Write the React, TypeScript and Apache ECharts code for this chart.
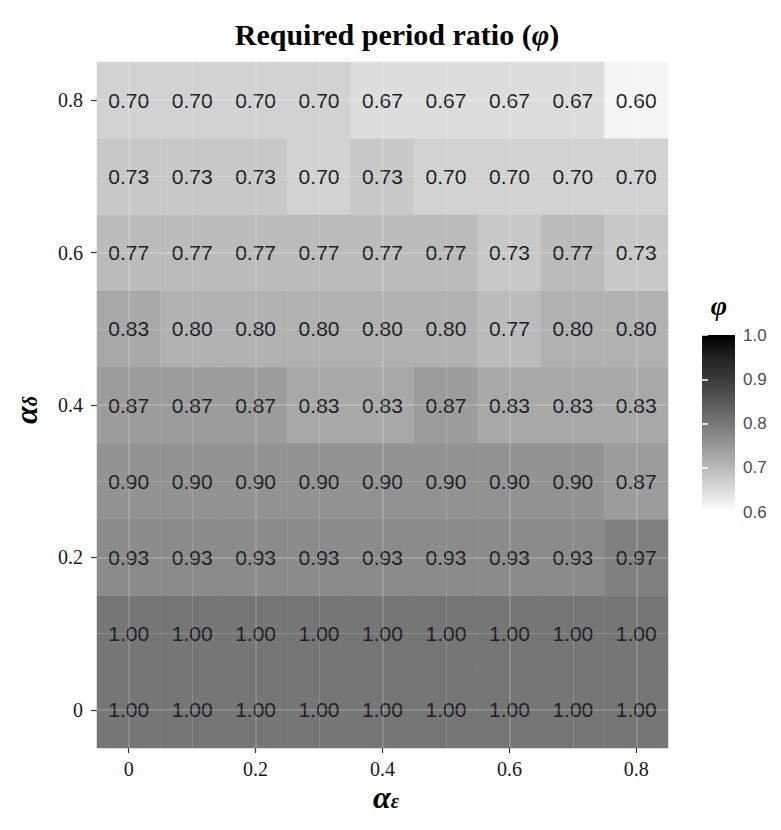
import React, { useEffect, useRef } from 'react';
import * as echarts from 'echarts';

// alpha_epsilon (x) and alpha_delta (y) levels
const xCategories = ['0', '0.1', '0.2', '0.3', '0.4', '0.5', '0.6', '0.7', '0.8'];
const yCategories = ['0', '0.1', '0.2', '0.3', '0.4', '0.5', '0.6', '0.7', '0.8'];

// rows from alpha_delta = 0 (bottom) to 0.8 (top); columns alpha_epsilon = 0 .. 0.8
const row00 = [1.0, 1.0, 1.0, 1.0, 1.0, 1.0, 1.0, 1.0, 1.0];
const row01 = [1.0, 1.0, 1.0, 1.0, 1.0, 1.0, 1.0, 1.0, 1.0];
const row02 = [0.93, 0.93, 0.93, 0.93, 0.93, 0.93, 0.93, 0.93, 0.97];
const row03 = [0.9, 0.9, 0.9, 0.9, 0.9, 0.9, 0.9, 0.9, 0.87];
const row04 = [0.87, 0.87, 0.87, 0.83, 0.83, 0.87, 0.83, 0.83, 0.83];
const row05 = [0.83, 0.8, 0.8, 0.8, 0.8, 0.8, 0.77, 0.8, 0.8];
const row06 = [0.77, 0.77, 0.77, 0.77, 0.77, 0.77, 0.73, 0.77, 0.73];
const row07 = [0.73, 0.73, 0.73, 0.7, 0.73, 0.7, 0.7, 0.7, 0.7];
const row08 = [0.7, 0.7, 0.7, 0.7, 0.67, 0.67, 0.67, 0.67, 0.6];
const rows = [row00, row01, row02, row03, row04, row05, row06, row07, row08];

const scaleMin = 0.6;
const scaleMax = 1.0;
const legendStep = 0.1;
const majorBreaks = ['0', '0.2', '0.4', '0.6', '0.8'];
const minorBreaks = ['0.1', '0.3', '0.5', '0.7'];

// white -> black gradient (Lab), tiles drawn at 50% alpha over grey92
const tileColors = ['#f5f5f5', '#e4e4e4', '#d2d2d2', '#c1c1c1', '#b1b1b1', '#a2a2a2', '#939393', '#868686', '#767676'];
const legendColors = ['#ffffff', '#dbdbdb', '#b9b9b9', '#979797', '#777777', '#585858', '#3b3b3b', '#212121', '#000000'];

const serif = 'Liberation Serif, Times New Roman, serif';
const sans = 'Liberation Sans, Arial, sans-serif';

export default function App() {
  const ref = useRef<HTMLDivElement>(null);

  useEffect(() => {
    if (!ref.current) return;
    const chart = echarts.init(ref.current, undefined, { renderer: 'svg' });

    const heatData: [number, number, number][] = [];
    rows.forEach((r, yi) => r.forEach((v, xi) => heatData.push([xi, yi, v])));

    const gradStops = legendColors
      .map((c, i) => ({ offset: 1 - i / (legendColors.length - 1), color: c }))
      .reverse();

    const gridLineData: any[] = [];
    majorBreaks.forEach((b) => {
      gridLineData.push({ xAxis: b, lineStyle: { width: 2 } });
      gridLineData.push({ yAxis: b, lineStyle: { width: 2 } });
    });
    minorBreaks.forEach((b) => {
      gridLineData.push({ xAxis: b, lineStyle: { width: 1 } });
      gridLineData.push({ yAxis: b, lineStyle: { width: 1 } });
    });

    const legendTick = {
      show: true,
      inside: true,
      length: 6,
      lineStyle: { color: '#ffffff', width: 1.5 },
    };

    const axisTitleRich = {
      a: { fontFamily: serif, fontWeight: 'bold', fontStyle: 'italic', fontSize: 32, lineHeight: 26, color: '#000', padding: [0, 0, 8, 0] },
      s: { fontFamily: serif, fontWeight: 'bold', fontStyle: 'italic', fontSize: 20, lineHeight: 20, color: '#000' },
    };

    chart.setOption({
      animation: false,
      backgroundColor: '#ffffff',
      title: {
        text: '{n|Required period ratio (}{p|φ}{n|)}',
        left: 392,
        top: 14,
        textAlign: 'center',
        textStyle: {
          rich: {
            n: { fontFamily: serif, fontWeight: 'bold', fontSize: 30, color: '#000' },
            p: { fontFamily: serif, fontWeight: 'bold', fontStyle: 'italic', fontSize: 30, color: '#000' },
          },
        },
      },
      grid: [
        { left: 97, top: 62, width: 571, height: 686, show: true, backgroundColor: '#ebebeb', borderWidth: 0 },
        {
          left: 702,
          top: 335,
          width: 33,
          height: 177,
          show: true,
          borderWidth: 0,
          backgroundColor: new echarts.graphic.LinearGradient(0, 0, 0, 1, gradStops),
        },
      ],
      xAxis: [
        {
          type: 'category',
          gridIndex: 0,
          data: xCategories,
          axisLine: { show: false },
          axisTick: { show: true, alignWithLabel: true, interval: 1, length: 5, lineStyle: { color: '#333', width: 1.2 } },
          axisLabel: { interval: 1, margin: 11, fontFamily: serif, fontSize: 20, color: '#1a1a1a' },
          splitLine: { show: false },
        },
        { type: 'value', gridIndex: 1, show: false, min: 0, max: 1 },
      ],
      yAxis: [
        {
          type: 'category',
          gridIndex: 0,
          data: yCategories,
          axisLine: { show: false },
          axisTick: { show: true, alignWithLabel: true, interval: 1, length: 6, lineStyle: { color: '#333', width: 1.2 } },
          axisLabel: { interval: 1, margin: 14, fontFamily: serif, fontSize: 20, color: '#1a1a1a' },
          splitLine: { show: false },
        },
        {
          type: 'value',
          gridIndex: 1,
          position: 'right',
          min: scaleMin,
          max: scaleMax,
          interval: legendStep,
          axisLine: { show: false },
          splitLine: { show: false },
          axisTick: legendTick,
          axisLabel: {
            margin: 8,
            fontFamily: sans,
            fontSize: 17,
            color: '#4d4d4d',
            formatter: (v: number) => v.toFixed(1),
          },
        },
        {
          type: 'value',
          gridIndex: 1,
          position: 'left',
          min: scaleMin,
          max: scaleMax,
          interval: legendStep,
          axisLine: { show: false },
          splitLine: { show: false },
          axisTick: legendTick,
          axisLabel: { show: false },
        },
      ],
      visualMap: {
        type: 'continuous',
        show: false,
        min: scaleMin,
        max: scaleMax,
        dimension: 2,
        seriesIndex: 0,
        inRange: { color: tileColors },
      },
      series: [
        {
          type: 'heatmap',
          xAxisIndex: 0,
          yAxisIndex: 0,
          data: heatData,
          label: {
            show: true,
            fontFamily: sans,
            fontSize: 21,
            color: '#1e1e26',
            formatter: (p: any) => Number(p.value[2]).toFixed(2),
          },
          itemStyle: { borderWidth: 0 },
          emphasis: { disabled: true },
        },
        {
          type: 'line',
          xAxisIndex: 0,
          yAxisIndex: 0,
          data: [],
          z: 5,
          markLine: {
            silent: true,
            animation: false,
            symbol: ['none', 'none'],
            label: { show: false },
            lineStyle: { color: 'rgba(255,255,255,0.16)', type: 'solid' },
            emphasis: { disabled: true },
            data: gridLineData,
          },
        },
      ],
      graphic: [
        {
          type: 'text',
          x: 386,
          y: 801,
          style: {
            text: '{a|α}{s|ε}',
            textAlign: 'center',
            textVerticalAlign: 'middle',
            rich: axisTitleRich,
          },
        },
        {
          type: 'text',
          x: 30,
          y: 410,
          rotation: Math.PI / 2,
          style: {
            text: '{a|α}{s|δ}',
            textAlign: 'center',
            textVerticalAlign: 'middle',
            rich: axisTitleRich,
          },
        },
        {
          type: 'text',
          x: 719,
          y: 305,
          style: {
            text: 'φ',
            textAlign: 'center',
            textVerticalAlign: 'middle',
            fontFamily: serif,
            fontWeight: 'bold',
            fontStyle: 'italic',
            fontSize: 28,
            fill: '#000',
          },
        },
      ],
    });

    return () => chart.dispose();
  }, []);

  return (
    <div
      ref={ref}
      style={{ position: 'absolute', left: 0, top: 0, width: 781, height: 830 }}
    />
  );
}
